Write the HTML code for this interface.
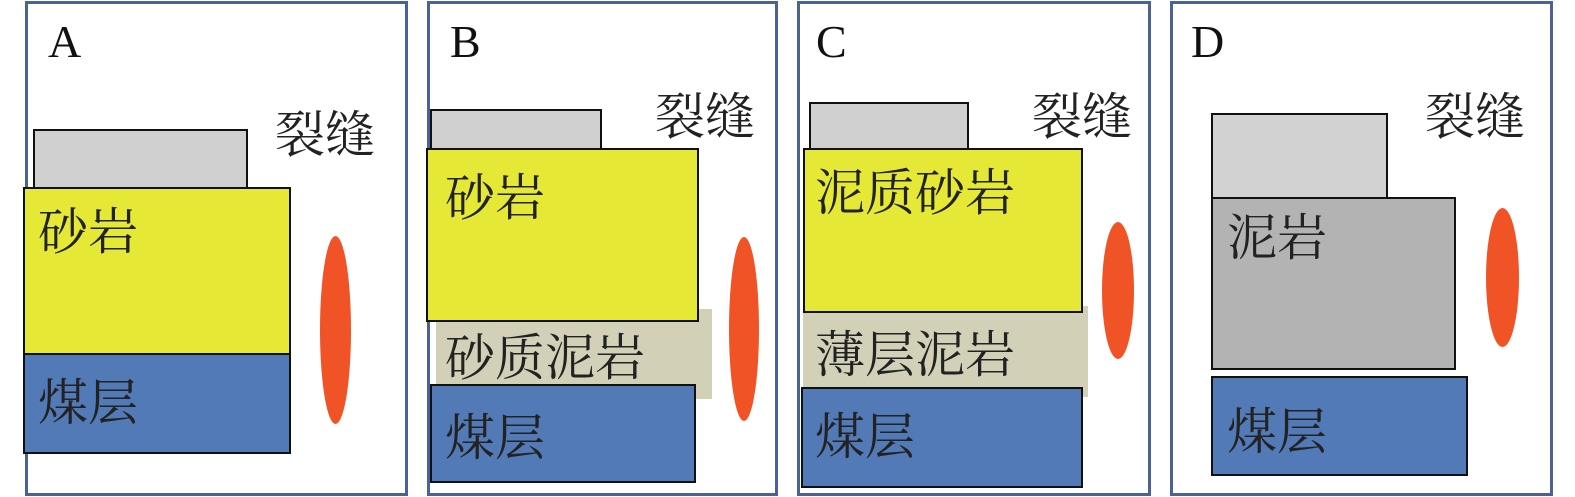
<!DOCTYPE html>
<html><head><meta charset="utf-8"><style>
body{margin:0;width:1575px;height:497px;background:#fff;position:relative;overflow:hidden;font-family:"Liberation Serif","Noto Serif CJK SC",serif;}
div{position:absolute;box-sizing:border-box;}
.f{border:3px solid #4a6394;background:#fff;top:1px;height:495px;}
.r{border:2.5px solid #111;}
.g{background:#d0d0d0;}
.y{background:#e5e935;}
.b{background:#517ab6;}
.t{background:#d3d0b8;}
.e{background:#f05426;border-radius:50%;}
.L{font-size:46px;color:#111;line-height:1;}
.c{font-size:50px;color:#222;line-height:1;white-space:nowrap;font-family:"Noto Serif CJK SC",serif;}
</style></head><body>
<!-- A -->
<div class="f" style="left:25px;width:383px"></div>
<div class="r g" style="left:33px;top:129px;width:215px;height:61px"></div>
<div class="r y" style="left:23px;top:187px;width:268px;height:168px"></div>
<div class="r b" style="left:23px;top:353px;width:268px;height:101px"></div>
<div class="e" style="left:320px;top:236px;width:31px;height:188px"></div>
<div class="L" style="left:48px;top:19px">A</div>
<div class="c" style="left:275px;top:106px">裂缝</div>
<div class="c" style="left:38px;top:203px">砂岩</div>
<div class="c" style="left:38px;top:374px">煤层</div>
<!-- B -->
<div class="f" style="left:427px;width:351px"></div>
<div class="r g" style="left:430px;top:109px;width:172px;height:41px"></div>
<div class="t" style="left:436px;top:309px;width:276px;height:90px"></div>
<div class="r y" style="left:426px;top:148px;width:273px;height:174px"></div>
<div class="r b" style="left:430px;top:384px;width:266px;height:99px"></div>
<div class="e" style="left:729px;top:237px;width:30px;height:184px"></div>
<div class="L" style="left:450px;top:19px">B</div>
<div class="c" style="left:655px;top:88px">裂缝</div>
<div class="c" style="left:445px;top:169px">砂岩</div>
<div class="c" style="left:445px;top:329px">砂质泥岩</div>
<div class="c" style="left:445px;top:409px">煤层</div>
<!-- C -->
<div class="f" style="left:797px;width:354px"></div>
<div class="r g" style="left:809px;top:102px;width:160px;height:48px"></div>
<div class="t" style="left:803px;top:306px;width:285px;height:91px"></div>
<div class="r y" style="left:803px;top:148px;width:280px;height:165px"></div>
<div class="r b" style="left:801px;top:387px;width:282px;height:101px"></div>
<div class="e" style="left:1102px;top:222px;width:32px;height:137px"></div>
<div class="L" style="left:816px;top:19px">C</div>
<div class="c" style="left:1032px;top:88px">裂缝</div>
<div class="c" style="left:815px;top:164px">泥质砂岩</div>
<div class="c" style="left:815px;top:326px">薄层泥岩</div>
<div class="c" style="left:815px;top:408px">煤层</div>
<!-- D -->
<div class="f" style="left:1170px;width:383px"></div>
<div class="r" style="left:1211px;top:113px;width:177px;height:87px;background:#d2d2d2"></div>
<div class="r" style="left:1211px;top:197px;width:245px;height:173px;background:#b3b3b3"></div>
<div class="r b" style="left:1211px;top:376px;width:257px;height:100px"></div>
<div class="e" style="left:1486px;top:208px;width:33px;height:139px"></div>
<div class="L" style="left:1191px;top:19px">D</div>
<div class="c" style="left:1425px;top:88px">裂缝</div>
<div class="c" style="left:1227px;top:209px">泥岩</div>
<div class="c" style="left:1227px;top:403px">煤层</div>
</body></html>
